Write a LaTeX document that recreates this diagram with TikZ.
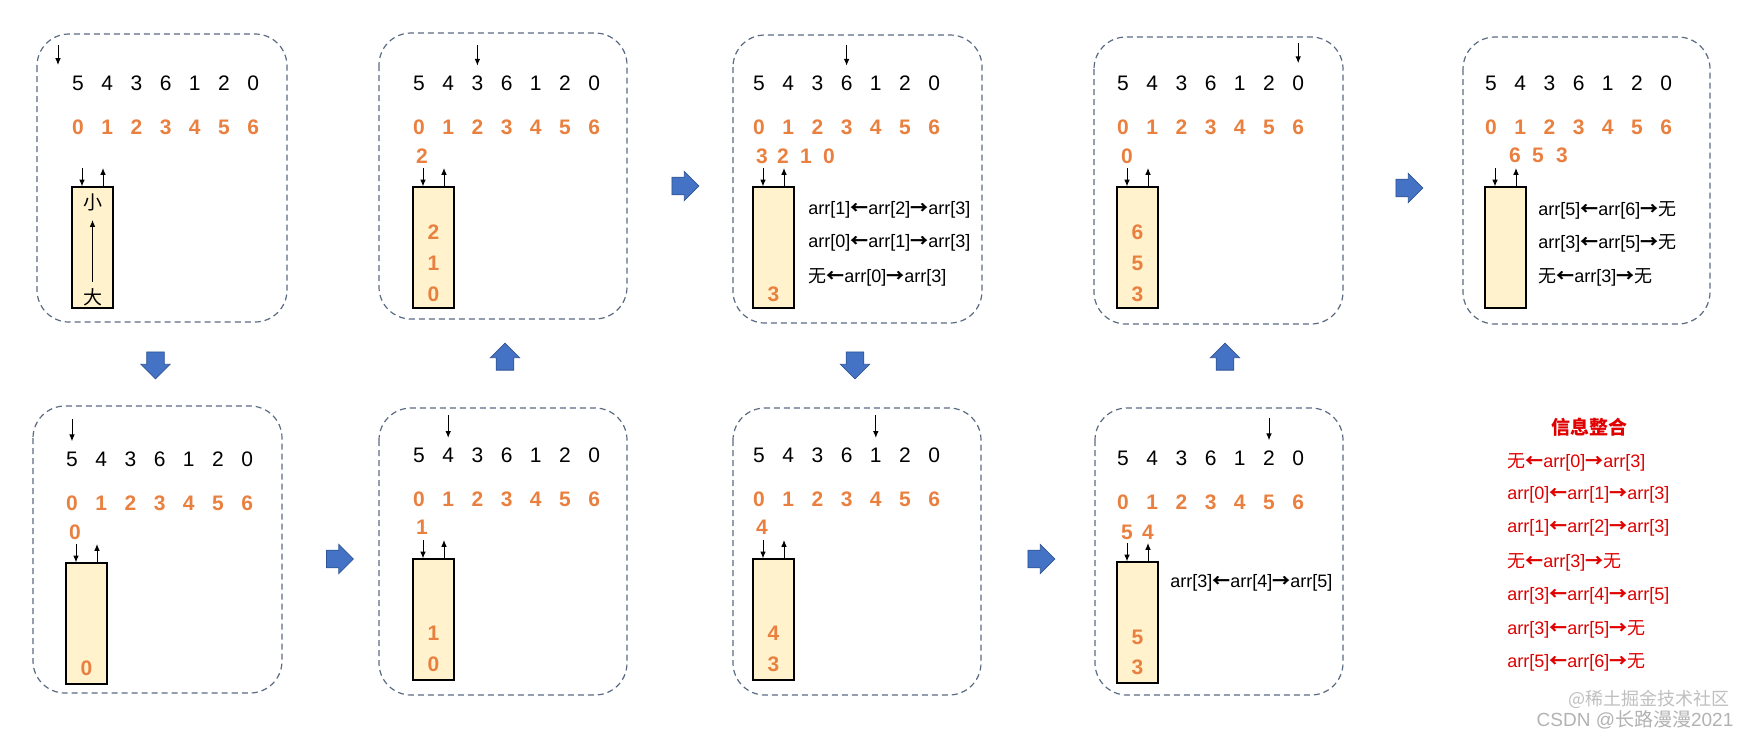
\documentclass[tikz,border=0pt]{standalone}
\usepackage{fontspec}
\setmainfont{Liberation Sans}
\newfontfamily\cjk{Noto Sans CJK SC}
\usepackage{tikz}
\usetikzlibrary{arrows.meta,positioning,shapes.arrows}
\definecolor{idxorange}{HTML}{E98040}
\definecolor{stackfill}{HTML}{FFF2CC}
\definecolor{framegray}{HTML}{5A6A82}
\definecolor{flowblue}{HTML}{4472C4}
\definecolor{flowedge}{HTML}{2F5597}
\definecolor{infored}{HTML}{E00000}
\newcommand\toL{{\cjk\bfseries ←}}
\newcommand\toR{{\cjk\bfseries →}}
\newcommand\wu{{\cjk 无}}

\begin{document}
\begin{tikzpicture}[
  x=0.5pt, y=-0.5pt,
  frame/.style={draw=framegray, dash pattern=on 3pt off 2pt, rounded corners=16pt, line width=0.6pt},
  val/.style={font=\fontsize{10.5}{12}\selectfont, inner sep=0pt},
  idx/.style={font=\fontsize{10.5}{12}\selectfont\bfseries, text=idxorange, inner sep=0pt},
  stack/.style={draw, fill=stackfill, line width=0.6pt, minimum width=20.5pt, minimum height=60.5pt, inner sep=0pt},
  ptr/.style={-{Latex[length=3.4pt,width=2.8pt]}, line width=0.5pt},
  note/.style={font=\fontsize{9}{11}\selectfont, anchor=west, inner sep=0pt},
  info/.style={note, text=infored},
  flow/.style={single arrow, draw=flowedge, fill=flowblue, line width=0.4pt, minimum height=13.5pt, inner sep=4.2pt, single arrow head extend=2.9pt, single arrow head indent=0pt}
]
\useasboundingbox (0,0) rectangle (1751,736);

% panels: frame, values, indexes, stack
\foreach \p/\ox/\oy/\fl/\ft/\fr/\fb in {a/78/83/37/34/287/322, b/419/83/379/33/627/319, c/759/83/733/35/982/323, d/1123/83/1094/37/1343/324, e/1491/83/1463/37/1710/324, f/72/459/33/406/282/693, g/419/455/379/408/627/695, h/759/455/733/408/981/695, i/1123/458/1095/408/1343/695}{
  \draw[frame] (\fl,\ft) rectangle (\fr,\fb);
  \begin{scope}[shift={(\ox,\oy)}]
    \foreach \v [count=\k from 0] in {5,4,3,6,1,2,0}{
      \node[val] (\p v\k) at (\k*29.2,0) {\v};
      \node[idx] (\p i\k) at (\k*29.2,44) {\k};
    }
    \node[stack] (\p s) at (14.5,164.5) {};
    \coordinate (\p push) at (4,85);
    \coordinate (\p pop) at (25,85);
    \draw[ptr] (\p push) -- (\p push |- \p s.north);
    \draw[ptr] (\p pop |- \p s.north) -- (\p pop);
  \end{scope}
}

% current position pointers
\coordinate (atop) at (58,45);
\coordinate (abot) at (58,65);
\draw[ptr] (atop) -- (abot);
\coordinate (bp) at (bv2 |- 0,45);
\draw[ptr, shorten >=4.75pt] (bp) -- (bv2);
\coordinate (cp) at (cv3 |- 0,45);
\draw[ptr, shorten >=4.75pt] (cp) -- (cv3);
\coordinate (dp) at (dv6 |- 0,43);
\draw[ptr, shorten >=6pt] (dp) -- (dv6);
\coordinate (fp) at (fv0 |- 0,419);
\draw[ptr, shorten >=5pt] (fp) -- (fv0);
\coordinate (gp) at (gv1 |- 0,415);
\draw[ptr, shorten >=4.75pt] (gp) -- (gv1);
\coordinate (hp) at (hv4 |- 0,415);
\draw[ptr, shorten >=4.75pt] (hp) -- (hv4);
\coordinate (ip) at (iv5 |- 0,418);
\draw[ptr, shorten >=5pt] (ip) -- (iv5);

% panel a
\node[font=\cjk\fontsize{9.5}{11}\selectfont, inner sep=0pt] (axiao) at (92.5,202) {小};
\node[font=\cjk\fontsize{9.5}{11}\selectfont, inner sep=0pt] (ada) at (92.5,297) {大};
\draw[ptr, shorten <=3pt, shorten >=4.5pt] (ada) -- (axiao);

% panel b
\node[idx] (bx0) at (422,156) {2};
\node[idx] (bs2) at (433.5,232) {2};
\node[idx] (bs1) at (433.5,263) {1};
\node[idx] (bs0) at (433.5,294) {0};

% panel c
\node[idx] (cx0) at (762,156) {3};
\node[idx] (cx1) at (783,156) {2};
\node[idx] (cx2) at (806,156) {1};
\node[idx] (cx3) at (829,156) {0};
\node[idx] (cs0) at (773.5,294) {3};
\node[note] (cn0) at (808,210) {arr[1]\toL arr[2]\toR arr[3]};
\node[note] (cn1) at (808,243) {arr[0]\toL arr[1]\toR arr[3]};
\node[note] (cn2) at (808,277) {\wu\toL arr[0]\toR arr[3]};

% panel d
\node[idx] (dx0) at (1127,156) {0};
\node[idx] (ds2) at (1137.5,232) {6};
\node[idx] (ds1) at (1137.5,263) {5};
\node[idx] (ds0) at (1137.5,294) {3};

% panel e
\node[idx] (ex0) at (1515,155) {6};
\node[idx] (ex1) at (1538,155) {5};
\node[idx] (ex2) at (1562,155) {3};
\node[note] (en0) at (1538,210) {arr[5]\toL arr[6]\toR\wu};
\node[note] (en1) at (1538,243) {arr[3]\toL arr[5]\toR\wu};
\node[note] (en2) at (1538,277) {\wu\toL arr[3]\toR\wu};

% panel f
\node[idx] (fx0) at (75,532) {0};
\node[idx] (fs0) at (86.5,668) {0};

% panel g
\node[idx] (gx0) at (422,527) {1};
\node[idx] (gs1) at (433.5,633) {1};
\node[idx] (gs0) at (433.5,664) {0};

% panel h
\node[idx] (hx0) at (762,527) {4};
\node[idx] (hs1) at (773.5,633) {4};
\node[idx] (hs0) at (773.5,664) {3};

% panel i
\node[idx] (ix0) at (1127,532) {5};
\node[idx] (ix1) at (1148,532) {4};
\node[idx] (is1) at (1137.5,637) {5};
\node[idx] (is0) at (1137.5,667) {3};
\node[note] (in0) at (1170,583) {arr[3]\toL arr[4]\toR arr[5]};

% step arrows
\node[flow, shape border rotate=270] (af) at (155.5,361) {};
\node[flow] (fg) at (335.5,559) {};
\node[flow, shape border rotate=90] (gb) at (505,361) {};
\node[flow] (bc) at (681,186) {};
\node[flow, shape border rotate=270] (ch) at (855,361) {};
\node[flow] (hi) at (1037,559) {};
\node[flow, shape border rotate=90] (id) at (1225,361) {};
\node[flow] (de) at (1405,188) {};

% summary
\node[font=\cjk\bfseries\fontsize{9.5}{11}\selectfont, text=infored, inner sep=0pt] (title) at (1589,427) {信息整合};
\node[info] (r0) at (1507,462) {\wu\toL arr[0]\toR arr[3]};
\node[info] (r1) at (1507,495) {arr[0]\toL arr[1]\toR arr[3]};
\node[info] (r2) at (1507,528) {arr[1]\toL arr[2]\toR arr[3]};
\node[info] (r3) at (1507,562) {\wu\toL arr[3]\toR\wu};
\node[info] (r4) at (1507,596) {arr[3]\toL arr[4]\toR arr[5]};
\node[info] (r5) at (1507,629) {arr[3]\toL arr[5]\toR\wu};
\node[info] (r6) at (1507,662) {arr[5]\toL arr[6]\toR\wu};

% watermark
\node[font=\cjk\fontsize{9}{11}\selectfont, text=black!25, inner sep=0pt] (wm0) at (1649,699) {@稀土掘金技术社区};
\node[font=\fontsize{9.5}{11}\selectfont, text=black!30, inner sep=0pt] (wm1) at (1635,720) {CSDN @{\cjk 长路漫漫}2021};
\end{tikzpicture}
\end{document}
